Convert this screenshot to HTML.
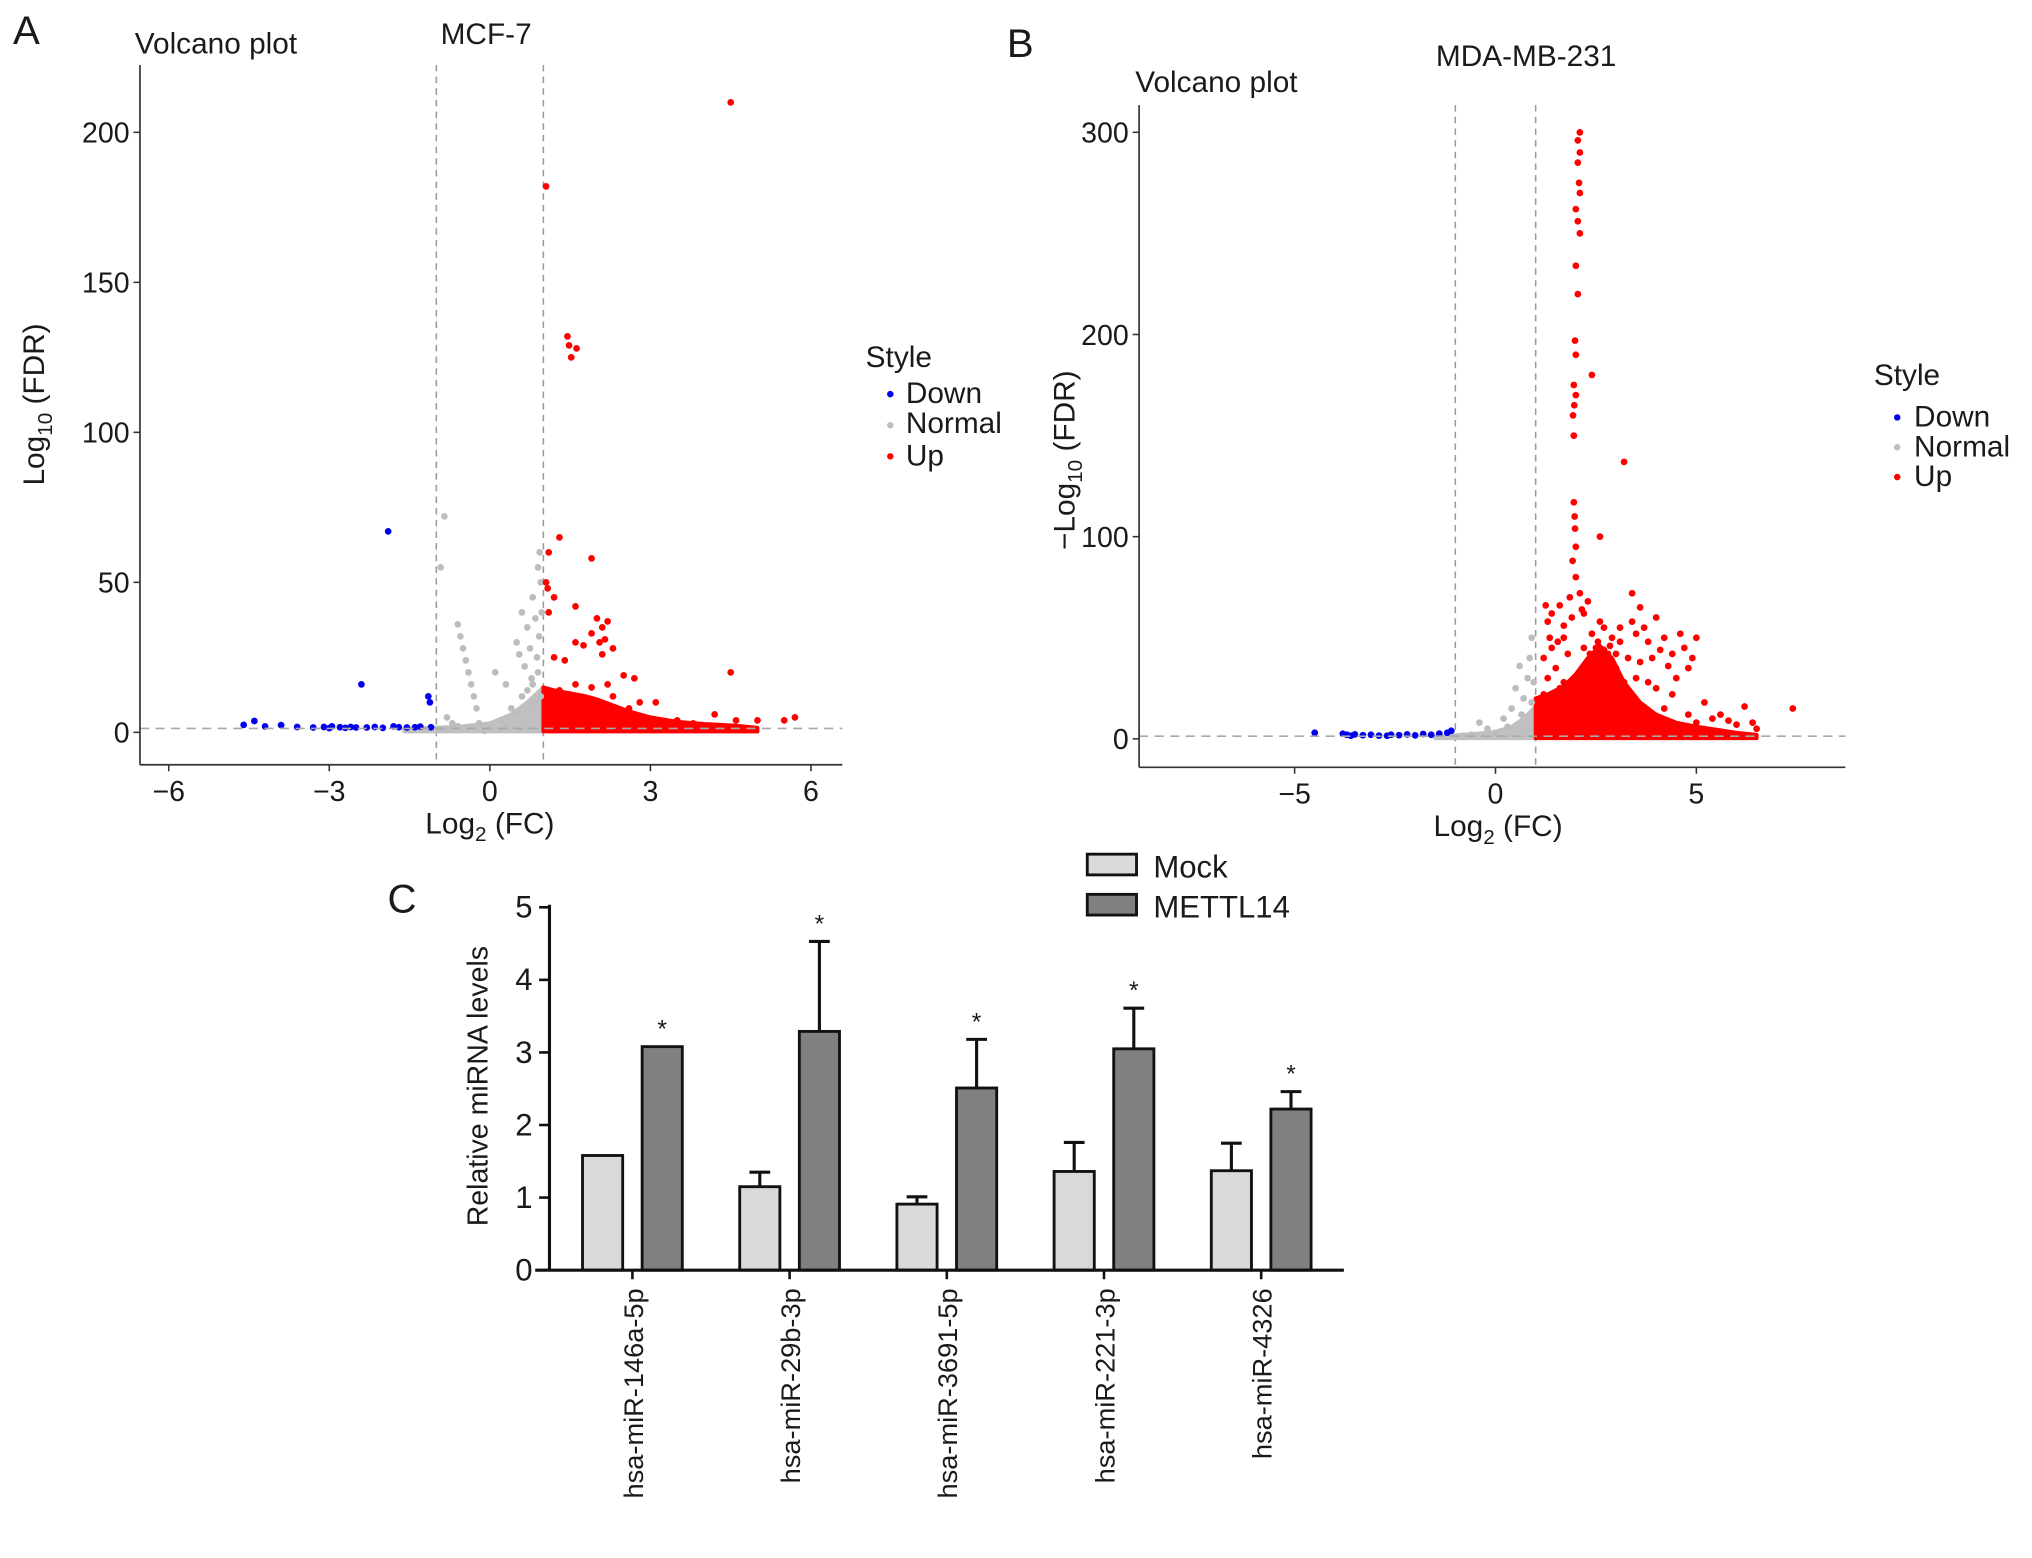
<!DOCTYPE html>
<html><head><meta charset="utf-8"><style>
html,body{margin:0;padding:0;background:#fff}
svg{display:block}
text{font-family:"Liberation Sans",Arial,sans-serif;fill:#1a1a1a}
</style></head><body>
<svg id="fig" width="2032" height="1558" viewBox="0 0 1568 1202" xmlns="http://www.w3.org/2000/svg">
<g id="pa"></g>
<g id="pb"></g>
<g id="pc"></g>
</svg>
<script>
// ---------- Panel A data (log2FC, -log10 FDR) ----------
const aDown = [[-4.6,2.5],[-4.4,3.8],[-4.2,2],[-3.9,2.4],[-3.6,1.8],[-3.3,1.6],[-3.1,1.8],[-2.95,2],[-2.8,1.7],[-2.6,1.8],[-2.4,16],[-2.3,1.6],[-2.15,1.8],[-2.0,1.5],[-1.9,67],[-1.8,2],[-1.7,1.7],[-1.55,1.6],[-1.4,1.7],[-1.3,1.9],[-1.15,12],[-1.12,10],[-1.1,1.7],[-3.0,1.4],[-2.7,1.5],[-2.5,1.6]];
const aNormal = [[-0.85,72],[-0.92,55],[-0.5,28],[-0.45,24],[-0.4,20],[-0.35,16],[-0.3,12],[-0.25,8],[-0.55,32],[-0.6,36],[0.1,20],[0.3,16],[0.5,30],[0.55,26],[0.6,40],[0.65,22],[0.7,35],[0.75,28],[0.8,45],[0.85,38],[0.9,55],[0.95,50],[0.92,32],[0.88,25],[0.78,18],[-0.8,5],[-0.7,3],[-0.2,3],[0,1],[0.2,4],[0.4,8],[0.6,12],[0.7,14],[0.8,16],[0.9,20],[0.95,12],[-0.6,2],[-0.9,1],[-1.2,1],[-1.5,0.8],[-0.1,0.5],[0.3,2],[0.5,6],[0.85,10],[0.97,40],[0.93,60]];
const aUp = [[4.5,210],[1.05,182],[1.45,132],[1.48,129],[1.62,128],[1.52,125],[1.3,65],[1.9,58],[1.1,60],[1.05,50],[1.08,48],[1.2,45],[1.1,40],[1.6,42],[2.0,38],[2.2,37],[2.1,35],[1.9,33],[2.15,31],[1.6,30],[1.75,29],[2.05,30],[2.3,28],[2.1,26],[1.2,25],[1.4,24],[4.5,20],[2.5,19],[2.7,18],[3.1,10],[4.2,6],[4.6,4],[5.0,4],[5.5,4],[5.7,5],[3.5,4],[3.8,3],[1.3,14],[1.9,15],[2.3,12],[2.8,10],[2.2,16],[1.6,16],[2.6,8]];
const aUpEnvX = [1.0,1.2,1.5,1.8,2.0,2.3,2.6,3.0,3.5,4.0,4.6,5.0];
const aUpEnvY = [15,14,13,12,11,9,7,5,3.5,2.8,2.2,1.5];
const aNormEnvX = [-1.6,-1.0,-0.5,0,0.4,0.7,1.0];
const aNormEnvY = [1,1.5,2,3,6,10,15];
const aXTicks = [-6,-3,0,3,6];
const aYTicks = [0,50,100,150,200];

// ---------- Panel B data ----------
const bDown = [[-4.5,3],[-3.8,2.5],[-3.7,2],[-3.5,2.2],[-3.3,1.8],[-3.1,2],[-2.9,1.6],[-2.6,2],[-2.4,1.8],[-2.2,2.2],[-2.0,1.7],[-1.8,2.4],[-1.6,2],[-1.4,2.6],[-1.2,3],[-1.1,4],[-3.6,1.5],[-2.7,1.5]];
const bNormal = [[0.9,50],[0.85,40],[0.8,30],[0.6,36],[0.5,25],[0.4,15],[0.2,10],[-0.4,8],[-0.2,5],[0.7,20],[0.95,28],[0.3,6],[0,3],[-0.6,2],[-0.8,1.5],[0.65,12],[0.9,18]];
const bUp = [[2.1,300],[2.05,296],[2.1,290],[2.05,285],[2.08,275],[2.1,270],[2.0,262],[2.05,256],[2.1,250],[2.0,234],[2.05,220],[1.98,197],[2.0,190],[2.4,180],[1.95,175],[2.0,170],[1.96,165],[1.93,160],[1.95,150],[3.2,137],[2.6,100],[1.95,117],[1.97,110],[1.98,104],[2.0,95],[1.92,88],[2.0,80],[2.1,72],[2.3,68],[1.6,66],[1.9,60],[2.2,62],[1.3,58],[3.4,72],[3.6,65],[4.0,60],[3.7,55],[4.2,50],[4.6,52],[5.0,50],[4.7,45],[4.9,40],[4.3,36],[2.7,55],[2.9,50],[3.1,48],[2.5,45],[2.8,42],[3.3,40],[3.0,35],[3.5,30],[3.8,28],[4.0,25],[4.4,22],[5.2,18],[6.2,16],[7.4,15],[5.6,12],[5.0,8],[6.0,7],[1.2,40],[1.4,45],[1.5,35],[1.7,50],[1.8,42],[1.3,30],[1.6,25],[3.8,48],[3.4,58],[2.4,38],[2.6,32],[2.2,45],[4.5,30],[6.5,5],[1.25,66],[1.4,62],[1.7,56],[1.85,70],[2.15,64],[2.4,52],[2.55,48],[2.7,44],[2.85,46],[3.0,42],[2.35,42],[2.6,58],[3.1,55],[3.5,52],[3.9,40],[4.1,44],[4.4,42],[4.8,35],[3.6,38],[3.2,28],[2.9,26],[1.5,20],[1.2,22],[1.7,28],[2.0,22],[3.4,20],[4.2,15],[4.8,12],[5.4,10],[5.8,9],[6.4,8],[1.35,50],[1.55,48]];
const bUpEnvX = [1.0,1.3,1.7,2.0,2.3,2.6,2.9,3.2,3.6,4.0,4.5,5.0,5.5,6.0,6.5];
const bUpEnvY = [20,22,26,32,40,46,40,28,18,12,8,6,4.5,3,2];
const bNormEnvX = [-1.5,-1.0,-0.5,0,0.4,0.7,1.0];
const bNormEnvY = [1,1.8,2.5,3.5,6,10,16];
const bXTicks = [-5,0,5];
const bYTicks = [0,100,200,300];

// ---------- Panel C data ----------
const cCategories = ["hsa-miR-146a-5p","hsa-miR-29b-3p","hsa-miR-3691-5p","hsa-miR-221-3p","hsa-miR-4326"];
const cMock = [1.58,1.15,0.91,1.36,1.37];
const cMockErr = [0,0.2,0.1,0.4,0.38];
const cMettl = [3.08,3.29,2.51,3.05,2.22];
const cMettlErr = [0,1.24,0.67,0.56,0.24];
const cYTicks = [0,1,2,3,4,5];

const NS="http://www.w3.org/2000/svg";
function mk(parent,tag,attrs,txt){const e=document.createElementNS(NS,tag);for(const k in attrs)e.setAttribute(k,attrs[k]);if(txt!==undefined)e.textContent=txt;parent.appendChild(e);return e;}

function volcano(g,o){
  const xs=v=>o.x0+v*o.kx, ys=v=>o.y0-v*o.ky;
  let l;
  l=mk(g,'line',{x1:xs(-1),x2:xs(-1),y1:o.top,y2:o.bottom,stroke:'#9a9a9a','stroke-width':1.2,'stroke-dasharray':'5,4'});
  
  
  l=mk(g,'line',{x1:xs(1),x2:xs(1),y1:o.top,y2:o.bottom,stroke:'#9a9a9a','stroke-width':1.2,'stroke-dasharray':'5,4'});
  
  
  function env(X,Y,col,name){
    let d='M'+xs(X[0])+','+ys(0.3);
    X.forEach((x,i)=>{d+=' L'+xs(x)+','+ys(Y[i]);});
    d+=' L'+xs(X[X.length-1])+','+ys(0.3)+' Z';
    const p=mk(g,'path',{d:d,fill:col,stroke:col,'stroke-width':3,'stroke-linejoin':'round'});
    
    
  }
  env(o.nEnvX,o.nEnvY,'#c0c0c0','normal-density');
  env(o.uEnvX,o.uEnvY,'#ff0000','up-density');
  function pts(arr,col,name){
    arr.forEach(p=>{
      const c=mk(g,'circle',{cx:xs(p[0]),cy:ys(p[1]),r:2.6,fill:col});
      
      
    });
  }
  pts(o.normal,'#bdbdbd','normal-point');
  pts(o.down,'#0000ee','down-point');
  pts(o.up,'#ff0000','up-point');
  l=mk(g,'line',{x1:o.left,x2:o.right,y1:ys(1.3),y2:ys(1.3),stroke:'#a8a8a8','stroke-width':1.2,'stroke-dasharray':'7,5'});
  
  
  l=mk(g,'line',{x1:o.left,x2:o.left,y1:o.top,y2:o.bottom,stroke:'#333','stroke-width':1.3});
  
  
  l=mk(g,'line',{x1:o.left,x2:o.right,y1:o.bottom,y2:o.bottom,stroke:'#333','stroke-width':1.3});
  
  
  o.xt.forEach(v=>{
    mk(g,'line',{x1:xs(v),x2:xs(v),y1:o.bottom,y2:o.bottom+5,stroke:'#333','stroke-width':1.2});
    const t=mk(g,'text',{x:xs(v),y:o.bottom+28,'text-anchor':'middle','font-size':22},(v<0?'\u2212':'')+Math.abs(v));
    
    
  });
  o.yt.forEach(v=>{
    mk(g,'line',{x1:o.left-5,x2:o.left,y1:ys(v),y2:ys(v),stroke:'#333','stroke-width':1.2});
    const t=mk(g,'text',{x:o.left-8,y:ys(v)+8,'text-anchor':'end','font-size':22},String(v));
    
    
  });
}

const pa=document.getElementById('pa');
volcano(pa,{x0:378,kx:41.3,y0:565,ky:2.315,left:108,right:650,top:50,bottom:590,down:aDown,normal:aNormal,up:aUp,uEnvX:aUpEnvX,uEnvY:aUpEnvY,nEnvX:aNormEnvX,nEnvY:aNormEnvY,xt:aXTicks,yt:aYTicks});
const pb=document.getElementById('pb');
volcano(pb,{x0:1154,kx:31,y0:570,ky:1.56,left:879,right:1424,top:81,bottom:592,down:bDown,normal:bNormal,up:bUp,uEnvX:bUpEnvX,uEnvY:bUpEnvY,nEnvX:bNormEnvX,nEnvY:bNormEnvY,xt:bXTicks,yt:bYTicks});

// ---------- Panel C ----------
const pc=document.getElementById('pc');
const cy=v=>980-v*56, cx0=488, cstep=121.3, bw=31;
cCategories.forEach((c,i)=>{
  const tick=cx0+i*cstep;
  function bar(v,e,xc,fill,name){
    if(e>0){
      const a=mk(pc,'line',{x1:xc,x2:xc,y1:cy(v),y2:cy(v+e),stroke:'#111','stroke-width':2.4});
      
      
      mk(pc,'line',{x1:xc-8,x2:xc+8,y1:cy(v+e),y2:cy(v+e),stroke:'#111','stroke-width':2.4});
    }
    const r=mk(pc,'rect',{x:xc-bw/2,y:cy(v),width:bw,height:cy(0)-cy(v),fill:fill,stroke:'#111','stroke-width':2.2});
    
    
  }
  bar(cMock[i],cMockErr[i],tick-23,'#d9d9d9','bar-mock');
  bar(cMettl[i],cMettlErr[i],tick+23,'#808080','bar-mettl14');
  const s=mk(pc,'text',{x:tick+23,y:cy(cMettl[i]+cMettlErr[i])-7,'text-anchor':'middle','font-size':19},'*');
  
  
  mk(pc,'line',{x1:tick,x2:tick,y1:980,y2:987,stroke:'#111','stroke-width':2});
  const t=mk(pc,'text',{x:tick+8,y:994,'text-anchor':'end','font-size':21,transform:'rotate(-90 '+(tick+8)+' 994)'},c);
  
  
});
let ax=mk(pc,'line',{x1:424,x2:424,y1:698,y2:981,stroke:'#111','stroke-width':2.4});


ax=mk(pc,'line',{x1:413,x2:1037,y1:980,y2:980,stroke:'#111','stroke-width':2.4});


cYTicks.forEach(v=>{
  mk(pc,'line',{x1:416,x2:424,y1:cy(v),y2:cy(v),stroke:'#111','stroke-width':2});
  const t=mk(pc,'text',{x:411,y:cy(v)+8,'text-anchor':'end','font-size':24},String(v));
  
  
});
</script>
<svg width="2032" height="1558" viewBox="0 0 1568 1202" style="position:absolute;left:0;top:0" xmlns="http://www.w3.org/2000/svg">
<text x="10" y="34" font-size="31">A</text>
<text x="104" y="41" font-size="23">Volcano plot</text>
<text x="340" y="34" font-size="23">MCF-7</text>
<text x="378" y="643" font-size="23" text-anchor="middle">Log<tspan font-size="16" dy="6">2</tspan><tspan dy="-6"> (FC)</tspan></text>
<text transform="translate(34 312) rotate(-90)" font-size="23" text-anchor="middle">Log<tspan font-size="16" dy="6">10</tspan><tspan dy="-6"> (FDR)</tspan></text>
<g>
<text x="668" y="283" font-size="23">Style</text>
<circle cx="687" cy="304" r="2.5" fill="#0000ee"/><text x="699" y="311" font-size="23">Down</text>
<circle cx="687" cy="328" r="2.5" fill="#bdbdbd"/><text x="699" y="334" font-size="23">Normal</text>
<circle cx="687" cy="352" r="2.5" fill="#ff0000"/><text x="699" y="359" font-size="23">Up</text>
</g>
<text x="777" y="44" font-size="31">B</text>
<text x="876" y="71" font-size="23">Volcano plot</text>
<text x="1108" y="51" font-size="23">MDA-MB-231</text>
<text x="1156" y="645" font-size="23" text-anchor="middle">Log<tspan font-size="16" dy="6">2</tspan><tspan dy="-6"> (FC)</tspan></text>
<text transform="translate(829 355) rotate(-90)" font-size="23" text-anchor="middle">−Log<tspan font-size="16" dy="6">10</tspan><tspan dy="-6"> (FDR)</tspan></text>
<g>
<text x="1446" y="297" font-size="23">Style</text>
<circle cx="1464" cy="322" r="2.5" fill="#0000ee"/><text x="1477" y="329" font-size="23">Down</text>
<circle cx="1464" cy="345" r="2.5" fill="#bdbdbd"/><text x="1477" y="352" font-size="23">Normal</text>
<circle cx="1464" cy="368" r="2.5" fill="#ff0000"/><text x="1477" y="375" font-size="23">Up</text>
</g>
<text x="299" y="704" font-size="31">C</text>
<text transform="translate(376 838) rotate(-90)" font-size="22" text-anchor="middle">Relative miRNA levels</text>
<g>
<rect x="839" y="659" width="38" height="16" fill="#d9d9d9" stroke="#111" stroke-width="2.2"/><text x="890" y="677" font-size="24">Mock</text>
<rect x="839" y="690" width="38" height="16" fill="#808080" stroke="#111" stroke-width="2.2"/><text x="890" y="708" font-size="24">METTL14</text>
</g>
</svg>
</body></html>
